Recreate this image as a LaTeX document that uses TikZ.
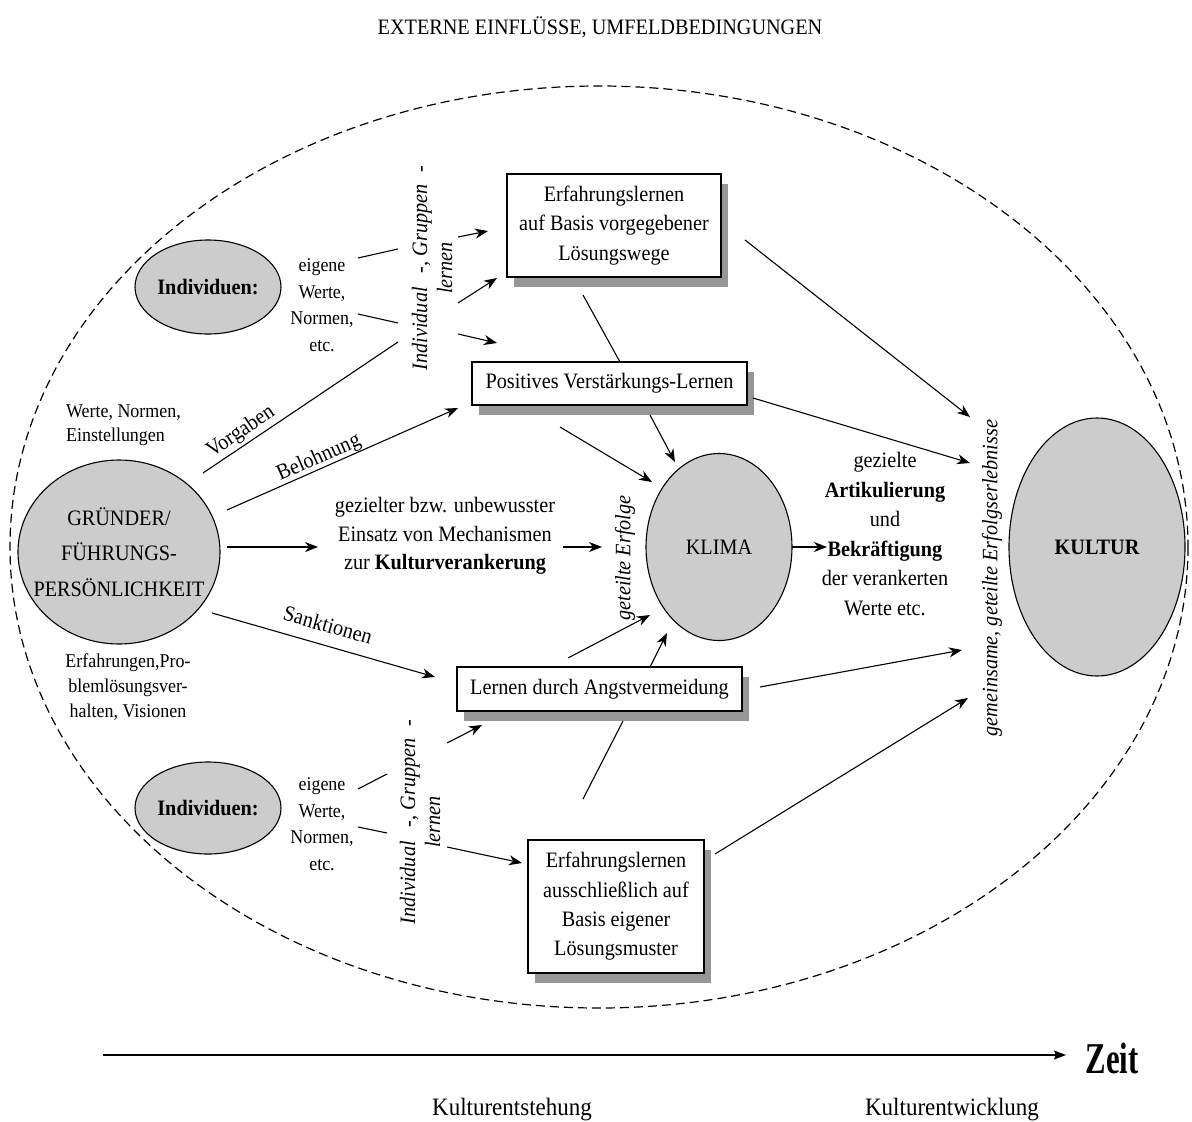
\documentclass[tikz,border=0pt]{standalone}
\usepackage{fontspec}
\setmainfont{Liberation Serif}[FakeStretch=0.92]
\usetikzlibrary{shapes.geometric,arrows.meta,shadows}
\definecolor{ellgray}{RGB}{204,204,204}
\definecolor{shgray}{RGB}{150,150,150}
\begin{document}
\begin{tikzpicture}[x=1pt,y=-1pt,
  every node/.style={inner sep=0pt, font=\fontsize{22}{29}\selectfont},
  ell/.style={ellipse, draw, fill=ellgray, line width=1.1pt, align=center},
  box/.style={draw, fill=white, line width=1.1pt, align=center,
    drop shadow={shadow xshift=7pt, shadow yshift=-10pt, fill=shgray, opacity=1}},
  con/.style={line width=1.1pt},
  arr/.style={con, -{Stealth[length=13pt,width=10pt,inset=4pt]}},
  small/.style={font=\fontsize{19.5}{26.5}\selectfont},
  rot/.style={rotate=90, align=center, font=\fontsize{22}{25}\selectfont\itshape},
  edgelbl/.style={font=\fontsize{22}{26}\selectfont}
]
\useasboundingbox (0,0) rectangle (1192,1122);

% outer dashed boundary
\draw[dash pattern=on 9pt off 5pt, line width=1.2pt] (599,547) ellipse [x radius=589, y radius=461];

\node (title) at (600,27) {EXTERNE EINFLÜSSE, UMFELDBEDINGUNGEN};

% ellipses
\node[ell, minimum width=202, minimum height=184] (gr) at (119,552) {};
\node[align=center, font=\fontsize{22}{35.5}\selectfont] (grt) at (gr.center) {GRÜNDER/\\FÜHRUNGS-\\PERSÖNLICHKEIT};
\node[ell, minimum width=146, minimum height=94] (indA) at (208,287) {\bfseries Individuen:};
\node[ell, minimum width=146, minimum height=92] (indB) at (208,808) {\bfseries Individuen:};
\node[ell, minimum width=146, minimum height=187] (klima) at (719,547) {KLIMA};
\node[ell, minimum width=176, minimum height=258] (kultur) at (1097,547) {\bfseries KULTUR};

% boxes
\node[box, minimum width=214, minimum height=103, font=\fontsize{22}{29.5}\selectfont] (b1) at (614,225.5) {Erfahrungslernen\\auf Basis vorgegebener\\Lösungswege};
\node[box, minimum width=275, minimum height=43] (b2) at (609.5,383.5) {Positives Verstärkungs-Lernen};
\node[box, minimum width=285, minimum height=44] (b3) at (599.5,689) {Lernen durch Angstvermeidung};
\node[box, minimum width=176, minimum height=133, font=\fontsize{22}{29.3}\selectfont] (b4) at (616,906.5) {Erfahrungslernen\\ausschließlich auf\\Basis eigener\\Lösungsmuster};

% side texts
\node[small, align=center] (eigA) at (322,305) {eigene\\Werte,\\Normen,\\etc.};
\node[small, align=center] (eigB) at (322,824) {eigene\\Werte,\\Normen,\\etc.};
\node[small, align=left, anchor=west, font=\fontsize{19.5}{24}\selectfont] (wne) at (66,425) {Werte, Normen,\\Einstellungen};
\node[small, align=center, font=\fontsize{19.5}{25}\selectfont] (erf) at (128,687) {Erfahrungen,Pro-\\blemlösungsver-\\halten, Visionen};
\node[align=center, font=\fontsize{22}{28.5}\selectfont] (mech) at (445,536) {gezielter bzw. unbewusster\\Einsatz von Mechanismen\\zur \textbf{Kulturverankerung}};
\node[align=center, font=\fontsize{22}{29.6}\selectfont] (artk) at (885,534) {gezielte\\\textbf{Artikulierung}\\und\\\textbf{Bekräftigung}\\der verankerten\\Werte etc.};

% rotated labels
\node[rot] (lernA) at (432,268) {Individual\hspace{14pt}-, Gruppen\hspace{12pt}-\\lernen};
\node[rot] (lernB) at (420,822) {Individual\hspace{14pt}-, Gruppen\hspace{12pt}-\\lernen};
\node[rot] (geteilt) at (625,558) {geteilte Erfolge};
\node[rot] (gemein) at (992,578) {gemeinsame, geteilte Erfolgserlebnisse};

% edge labels
\node[edgelbl, rotate=33.9] (vorg) at (241,432) {Vorgaben};
\node[edgelbl, rotate=23.8] (beloh) at (319,458) {Belohnung};
\node[edgelbl, rotate=-15.9] (sank) at (328,625) {Sanktionen};

% connector points
\coordinate (vS) at (203,473);   \coordinate (vE) at (398,342);
\coordinate (bS) at (227,510);   \coordinate (bE) at (458,408);
\coordinate (mS) at (227,547);   \coordinate (mE) at (318,547);
\coordinate (sS) at (212,613);   \coordinate (sE) at (435,677);
\coordinate (eA1s) at (358,258); \coordinate (eA1e) at (398,249);
\coordinate (eA2s) at (358,314); \coordinate (eA2e) at (398,323);
\coordinate (lA1s) at (458,237); \coordinate (lA1e) at (488,231);
\coordinate (lA2s) at (458,303); \coordinate (lA2e) at (497,278);
\coordinate (lA3s) at (458,334); \coordinate (lA3e) at (497,343);
\coordinate (b1b) at (583,295);  \coordinate (b2t) at (620,362);
\coordinate (b2b) at (650,415);  \coordinate (klA) at (675,462);
\coordinate (pA) at (560,427);   \coordinate (klB) at (652,482);
\coordinate (mkS) at (563,547);  \coordinate (mkE) at (602,547);
\coordinate (klE) at (792,547);  \coordinate (arE) at (827,547);
\coordinate (pB) at (568,658);   \coordinate (klC) at (650,615);
\coordinate (b3t) at (650,667);  \coordinate (klD) at (667,633);
\coordinate (b4t) at (583,799);  \coordinate (b3b) at (623,721);
\coordinate (eB1s) at (358,789); \coordinate (eB1e) at (387,774);
\coordinate (eB2s) at (358,827); \coordinate (eB2e) at (387,833);
\coordinate (lB1s) at (447,743); \coordinate (lB1e) at (482,725);
\coordinate (lB2s) at (447,847); \coordinate (lB2e) at (522,863);
\coordinate (b1r) at (745,240);  \coordinate (kuA) at (970,417);
\coordinate (b2r) at (753,398);  \coordinate (kuB) at (970,463);
\coordinate (b3r) at (760,687);  \coordinate (kuC) at (962,650);
\coordinate (b4r) at (715,854);  \coordinate (kuD) at (968,698);
\coordinate (t0) at (103,1055);  \coordinate (t1) at (1066,1055);

% connectors
\draw[con] (vS) -- (vE);
\draw[arr] (bS) -- (bE);
\draw[arr] (mS) -- (mE);
\draw[arr] (sS) -- (sE);
\draw[con] (eA1s) -- (eA1e);
\draw[con] (eA2s) -- (eA2e);
\draw[arr] (lA1s) -- (lA1e);
\draw[arr] (lA2s) -- (lA2e);
\draw[arr] (lA3s) -- (lA3e);
\draw[con] (b1b) -- (b2t);
\draw[arr] (b2b) -- (klA);
\draw[arr] (pA) -- (klB);
\draw[arr] (mkS) -- (mkE);
\draw[arr] (klE) -- (arE);
\draw[arr] (pB) -- (klC);
\draw[arr] (b3t) -- (klD);
\draw[con] (b4t) -- (b3b);
\draw[con] (eB1s) -- (eB1e);
\draw[con] (eB2s) -- (eB2e);
\draw[arr] (lB1s) -- (lB1e);
\draw[arr] (lB2s) -- (lB2e);
\draw[arr] (b1r) -- (kuA);
\draw[arr] (b2r) -- (kuB);
\draw[arr] (b3r) -- (kuC);
\draw[arr] (b4r) -- (kuD);

% time axis
\draw[line width=1.3pt, -{Stealth[length=12pt,width=9pt,inset=2pt]}] (t0) -- (t1);
\node (zeit) at (1112,1058) {\scalebox{0.76}[1]{\fontsize{44}{44}\selectfont\bfseries Zeit}};
\node[font=\fontsize{25}{30}\selectfont] (kent) at (512,1110) {Kulturentstehung};
\node[font=\fontsize{25}{30}\selectfont] (kentw) at (952,1110) {Kulturentwicklung};
\end{tikzpicture}
\end{document}
